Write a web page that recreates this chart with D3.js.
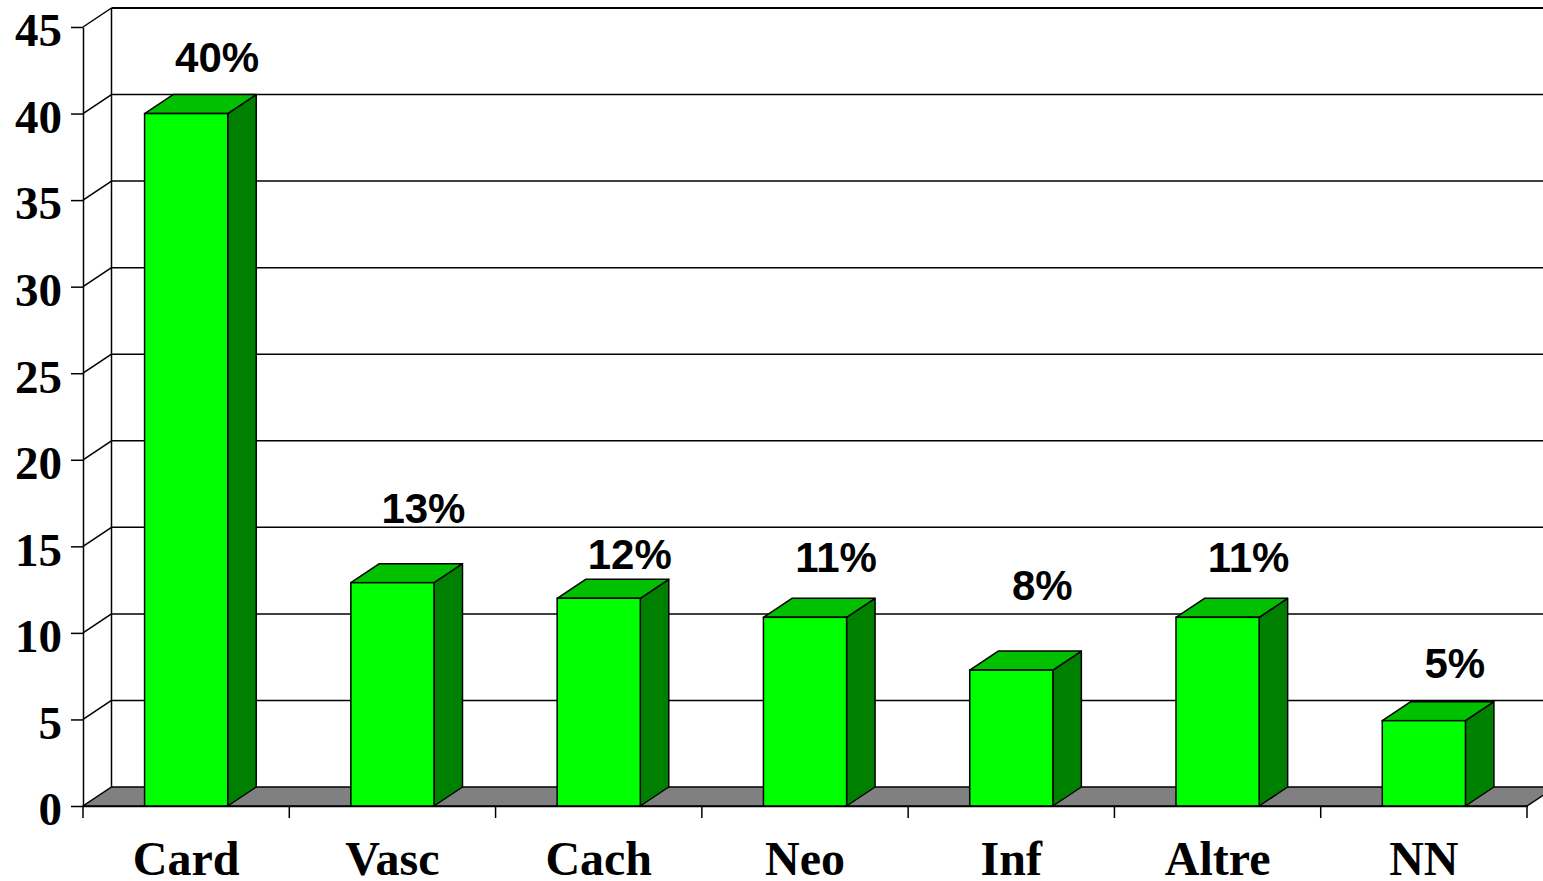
<!DOCTYPE html>
<html>
<head>
<meta charset="utf-8">
<script src="https://cdn.jsdelivr.net/npm/d3@7"></script>
<style>
  html, body { margin: 0; padding: 0; background: #fff; }
  svg { display: block; }
</style>
</head>
<body>
<svg id="chart" width="1543" height="881"></svg>
<script>
// ---- data ----
const categories = ["Card", "Vasc", "Cach", "Neo", "Inf", "Altre", "NN"];
const values = [40, 12.9, 12, 10.9, 7.85, 10.9, 4.93];
const labels = ["40%", "13%", "12%", "11%", "8%", "11%", "5%"];
const labelLevels = [42.4, 16.35, 13.7, 13.5, 11.9, 13.5, 7.4];
const yTicks = [0, 5, 10, 15, 20, 25, 30, 35, 40, 45];

// ---- layout ----
const svg = d3.select("#chart");
const x0 = 83, x1 = 1527, yBottom = 806, yTop = 27;
const dx = 28.5, dy = 19;

const x = d3.scaleBand().domain(categories).range([x0, x1]).padding(0);
const y = d3.scaleLinear().domain([0, 45]).range([yBottom, yTop]);
const barW = x.bandwidth() * 0.403;

// back wall gridlines
svg.append("g").selectAll("line").data(yTicks.filter(d => d > 0)).join("line")
  .attr("x1", x0 + dx).attr("x2", 1600)
  .attr("y1", d => y(d) - dy).attr("y2", d => y(d) - dy)
  .attr("stroke", "#000").attr("stroke-width", d => d === 45 ? 2 : 1.5);

// side wall diagonals
svg.append("g").selectAll("line").data(yTicks.filter(d => d > 0)).join("line")
  .attr("x1", x0).attr("x2", x0 + dx)
  .attr("y1", d => y(d)).attr("y2", d => y(d) - dy)
  .attr("stroke", "#000").attr("stroke-width", 1.5);

// back wall vertical
svg.append("line").attr("x1", x0 + dx).attr("x2", x0 + dx)
  .attr("y1", y(45) - dy).attr("y2", y(0) - dy)
  .attr("stroke", "#000").attr("stroke-width", 1.5);

// floor
svg.append("polygon")
  .attr("points", [[x0, y(0)], [x1, y(0)], [x1 + dx, y(0) - dy], [x0 + dx, y(0) - dy]].map(p => p.join(",")).join(" "))
  .attr("fill", "#808080").attr("stroke", "#000").attr("stroke-width", 1.5);

// bars
const bars = svg.append("g").selectAll("g").data(categories.map((c, i) => ({ c, v: values[i] }))).join("g");
bars.each(function(d) {
  const g = d3.select(this);
  const bx0 = x(d.c) + (x.bandwidth() - barW) / 2;
  const bx1 = bx0 + barW;
  const top = y(d.v), bot = y(0);
  const pts = a => a.map(p => p.join(",")).join(" ");
  g.append("polygon").attr("points", pts([[bx1, top], [bx1 + dx, top - dy], [bx1 + dx, bot - dy], [bx1, bot]]))
    .attr("fill", "#008000").attr("stroke", "#000").attr("stroke-width", 1.5).attr("stroke-linejoin", "round");
  g.append("polygon").attr("points", pts([[bx0, top], [bx0 + dx, top - dy], [bx1 + dx, top - dy], [bx1, top]]))
    .attr("fill", "#00C000").attr("stroke", "#000").attr("stroke-width", 1.5).attr("stroke-linejoin", "round");
  g.append("rect").attr("x", bx0).attr("y", top).attr("width", barW).attr("height", bot - top)
    .attr("fill", "#00FF00").attr("stroke", "#000").attr("stroke-width", 1.5);
});

// front y axis
const yAxis = d3.axisLeft(y).tickValues(yTicks).tickSize(12).tickSizeOuter(0).tickFormat(d3.format("d"));
const ya = svg.append("g").attr("transform", `translate(${x0},0)`).call(yAxis);
ya.select(".domain").attr("stroke", "#000").attr("stroke-width", 1.5);
ya.selectAll(".tick line").attr("stroke", "#000").attr("stroke-width", 1.5);
ya.selectAll(".tick text")
  .attr("x", -21).attr("dy", "0.4em")
  .style("font-family", "'Liberation Serif', 'Times New Roman', serif")
  .style("font-weight", "bold").style("font-size", "47px").attr("fill", "#000");

// x axis
const xAxis = d3.axisBottom(x).tickSize(0).tickSizeOuter(0);
const xa = svg.append("g").attr("transform", `translate(0,${yBottom})`).call(xAxis);
xa.select(".domain").attr("stroke", "#000").attr("stroke-width", 1.5);
xa.selectAll(".tick text")
  .attr("y", 69).attr("dy", 0)
  .style("font-family", "'Liberation Serif', 'Times New Roman', serif")
  .style("font-weight", "bold").style("font-size", "48px").attr("fill", "#000");
// boundary ticks
const bounds = categories.map(c => x(c)).concat([x1]);
svg.append("g").selectAll("line").data(bounds).join("line")
  .attr("x1", d => d).attr("x2", d => d)
  .attr("y1", yBottom).attr("y2", yBottom + 12)
  .attr("stroke", "#000").attr("stroke-width", 1.5);

// value labels
svg.append("g").selectAll("text").data(categories.map((c, i) => ({ c, t: labels[i], l: labelLevels[i] }))).join("text")
  .attr("x", d => x(d.c) + x.bandwidth() / 2 + 31)
  .attr("y", d => y(d.l))
  .attr("text-anchor", "middle")
  .style("font-family", "'Liberation Sans', Arial, sans-serif")
  .style("font-weight", "bold").style("font-size", "42px").attr("fill", "#000")
  .text(d => d.t);
</script>
</body>
</html>
